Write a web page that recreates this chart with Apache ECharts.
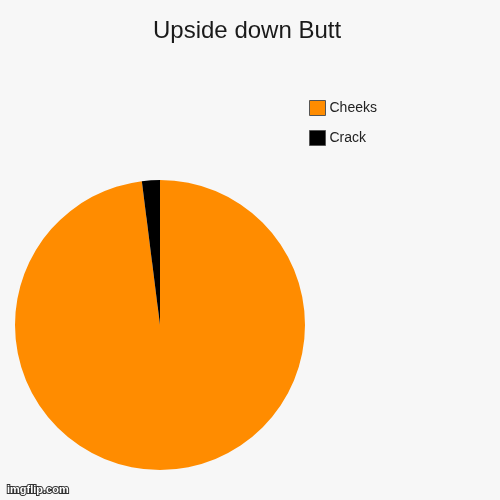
<!DOCTYPE html>
<html><head><meta charset="utf-8">
<script src="https://cdn.jsdelivr.net/npm/echarts@6/dist/echarts.min.js"></script>
<style>html,body{margin:0;padding:0;background:#f7f7f7}#c{width:500px;height:500px}</style>
</head><body><div id="c"></div>
<script>
const title = "Upside down Butt";
const categories = ["Cheeks", "Crack"];
const values = [98, 2];
const colors = ["#ff8c00", "#000000"];

const chart = echarts.init(document.getElementById('c'), null, {renderer: 'canvas'});
chart.setOption({
  backgroundColor: '#f7f7f7',
  animation: false,
  title: {
    text: title, left: 148, top: 14,
    textStyle: {fontFamily: 'Liberation Sans, Arial, sans-serif', fontSize: 24, fontWeight: 'normal', color: '#1a1a1a'}
  },
  legend: {
    orient: 'vertical', left: 309, top: 100, padding: 0,
    itemWidth: 16, itemHeight: 15, itemGap: 14,
    icon: 'rect',
    itemStyle: {borderColor: '#555', borderWidth: 1},
    textStyle: {fontFamily: 'Liberation Sans, Arial, sans-serif', fontSize: 14, color: '#222', padding: [0,0,0,-1]},
    data: categories
  },
  graphic: [{
    type: 'text', left: 6, top: 483,
    style: {text: 'imgflip.com', fill: '#fff', stroke: '#333', lineWidth: 2, font: 'bold 11px Liberation Sans, Arial, sans-serif'}
  }],
  series: [{
    type: 'pie',
    center: [160, 325],
    radius: [0, 145],
    startAngle: 90,
    clockwise: true,
    label: {show: false},
    labelLine: {show: false},
    emphasis: {disabled: true},
    itemStyle: {borderWidth: 0},
    data: categories.map((n, i) => ({name: n, value: values[i], itemStyle: {color: colors[i]}}))
  }]
});
</script></body></html>
